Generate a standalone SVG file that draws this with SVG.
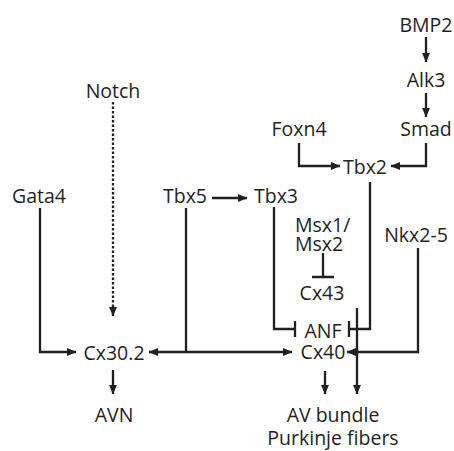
<svg xmlns="http://www.w3.org/2000/svg" width="454" height="451" viewBox="0 0 454 451">
<style>
text{font-family:"Open Sans","Noto Sans","DejaVu Sans",sans-serif;font-size:19.5px;fill:#231f20;text-anchor:middle}
.c{fill:none;stroke:#231f20;stroke-width:2.3}
.a{marker-end:url(#ah)}
.d{stroke-dasharray:2.6 1.9}
</style>
<defs>
<marker id="ah" markerUnits="userSpaceOnUse" markerWidth="10" markerHeight="10" viewBox="0 0 9 8" refX="8.5" refY="4" orient="auto">
<path d="M0,0.3 L9,4 L0,7.7 z" fill="#231f20"/>
</marker>
</defs>
<rect width="454" height="451" fill="#fff"/>
<g id="connectors">
<path class="c a" d="M426,37 V62"/>
<path class="c a" d="M426,93 V117"/>
<path class="c a" d="M299,143 V166 H340"/>
<path class="c a" d="M426,143 V166 H391"/>
<path class="c a" d="M212,198 H247"/>
<path class="c a d" d="M113,102 V316"/>
<path class="c a" d="M40,208 V352 H76"/>
<path class="c" d="M186,208 V352"/>
<path class="c a" d="M186,352 H149"/>
<path class="c a" d="M186,352 H292"/>
<path class="c a" d="M113,370 V394"/>
<path class="c" d="M274,207 V329 H295 M295,321 V337"/>
<path class="c" d="M370,182 V329 H349 M349,321 V337"/>
<path class="c" d="M323,253 V277 M312,277 H334"/>
<path class="c a" d="M418,248 V352 H347"/>
<path class="c a" d="M325,371 V394"/>
<path class="c a" d="M357,308 V394"/>
</g>
<g id="BMP2"><text x="426" y="32">BMP2</text></g>
<g id="Alk3"><text x="426" y="87">Alk3</text></g>
<g id="Smad"><text x="426" y="136">Smad</text></g>
<g id="Foxn4"><text x="299" y="136">Foxn4</text></g>
<g id="Tbx2"><text x="365" y="174">Tbx2</text></g>
<g id="Notch"><text x="113" y="98">Notch</text></g>
<g id="Gata4"><text x="39" y="203">Gata4</text></g>
<g id="Tbx5"><text x="185" y="203">Tbx5</text></g>
<g id="Tbx3"><text x="276" y="203">Tbx3</text></g>
<g id="Msx"><text x="295" y="232" style="text-anchor:start">Msx1/</text><text x="295" y="251" style="text-anchor:start">Msx2</text></g>
<g id="Nkx2-5"><text x="416" y="242">Nkx2-5</text></g>
<g id="Cx43"><text x="322" y="300">Cx43</text></g>
<g id="ANF"><text x="323" y="338">ANF</text></g>
<g id="Cx40"><text x="323" y="359">Cx40</text></g>
<g id="Cx30.2"><text x="114" y="360">Cx30.2</text></g>
<g id="AVN"><text x="114" y="422">AVN</text></g>
<g id="AVbundle"><text x="333" y="422">AV bundle</text></g>
<g id="Purkinje"><text x="333" y="445">Purkinje fibers</text></g>
</svg>
